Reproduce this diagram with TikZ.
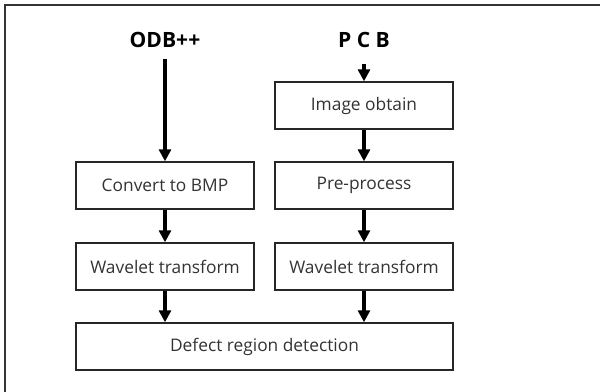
\documentclass[tikz,border=0pt]{standalone}
\usepackage{fontspec}
\setmainfont{Open Sans}
\usetikzlibrary{arrows.meta}
\tikzset{
  stepbox/.style={draw=black!85, line width=1.3pt, minimum width=133.5pt, minimum height=35pt,
    inner sep=0pt, font=\fontsize{13}{15}\selectfont, text=black!80},
  widebox/.style={stepbox, minimum width=282.75pt},
  title/.style={font=\fontsize{15.8}{18}\selectfont\bfseries, inner sep=0pt},
  flow/.style={line width=2.6pt, -{Triangle[length=9pt, width=9pt]}},
}
\begin{document}
\begin{tikzpicture}[x=0.75pt, y=-0.75pt]
  \useasboundingbox (0,0) rectangle (600,392);
  % frame (top and left edges)
  \draw[line width=1.4pt, black!80] (5,392) -- (5,5) -- (600,5);

  % titles
  \node[title] (odb) at (165,40) {ODB++};
  \node[title] (pcb) at (364,40) {P C B};

  % boxes
  \node[stepbox] (img)  at (364,105.5) {Image obtain};
  \node[stepbox] (conv) at (165,185.5) {Convert to BMP};
  \node[stepbox] (pre)  at (364,185.5) {Pre-process};
  \node[stepbox] (wl)   at (165,266.5) {Wavelet transform};
  \node[stepbox] (wr)   at (364,266.5) {Wavelet transform};
  \node[widebox] (det)  at (264.5,346.5) {Defect region detection};

  % connectors
  \coordinate (odbs) at (165,59);
  \coordinate (pcbs) at (364,64);
  \draw[flow] (odbs) -- (conv.north);
  \draw[flow] (pcbs) -- (img.north);
  \draw[flow] (img.south) -- (pre.north);
  \draw[flow] (conv.south) -- (wl.north);
  \draw[flow] (pre.south) -- (wr.north);
  \draw[flow] (wl.south) -- (wl.south |- det.north);
  \draw[flow] (wr.south) -- (wr.south |- det.north);
\end{tikzpicture}
\end{document}
